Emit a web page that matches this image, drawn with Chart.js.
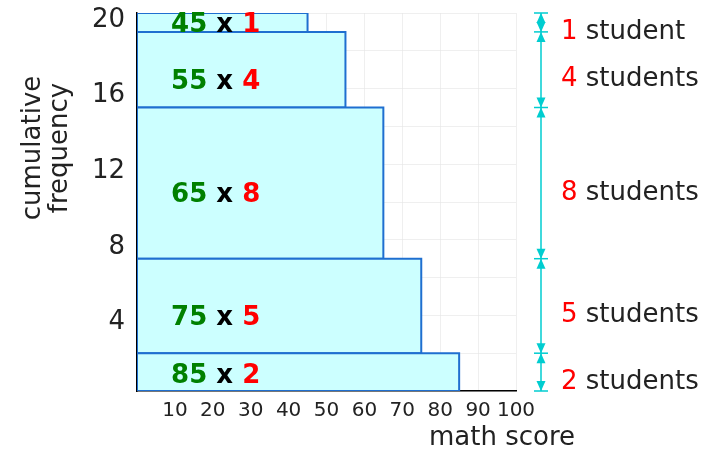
<!DOCTYPE html>
<html>
<head>
<meta charset="utf-8">
<script src="https://cdn.jsdelivr.net/npm/chart.js@4/dist/chart.umd.min.js"></script>
<style>
  html, body { margin: 0; padding: 0; background: #fff; }
  #wrap { width: 705px; height: 450px; }
</style>
</head>
<body>
<div id="wrap"><canvas id="chart-cumfreq" width="705" height="450"></canvas></div>
<script>
// math score of each group, bottom group first
const scores = [85, 75, 65, 55, 45];
// number of students in each group
const counts = [2, 5, 8, 4, 1];
const xTickLabels = ['10', '20', '30', '40', '50', '60', '70', '80', '90', '100'];
const yTickLabels = ['4', '8', '12', '16', '20'];
const yTitle = ['cumulative', 'frequency'];
const xTitle = 'math score';

const FONT = "'DejaVu Sans', 'Liberation Sans', sans-serif";
const TEXT = '#222';
const ARROW = '#00cdd0';

// cumulative bounds of each group
const bounds = [0];
counts.forEach((c) => bounds.push(bounds[bounds.length - 1] + c));

const datasets = scores.map((score, i) => {
  const y0 = bounds[i];
  const y1 = bounds[i + 1];
  return {
    label: `${score} x ${counts[i]}`,
    data: [
      { x: 0, y: y0 }, { x: score, y: y0 }, { x: score, y: y1 },
      { x: 0, y: y1 }, { x: 0, y: y0 },
    ],
    showLine: true,
    fill: 'shape',
    backgroundColor: '#ccffff',
    borderColor: '#1f6fd0',
    borderWidth: 2,
    pointRadius: 0,
    tension: 0,
  };
});

const annotations = {
  id: 'annotations',
  afterDraw(chart) {
    const { ctx, scales: { x, y }, chartArea } = chart;
    ctx.save();

    // group labels inside bars
    scores.forEach((score, i) => {
      const top = y.getPixelForValue(bounds[i + 1]);
      const bottom = y.getPixelForValue(bounds[i]);
      const mid = (top + bottom) / 2;
      const base = Math.max(Math.min(mid + 19, bottom - 8), top + 19);
      ctx.font = `bold 26px ${FONT}`;
      ctx.textBaseline = 'alphabetic';
      ctx.textAlign = 'left';
      let px = x.getPixelForValue(9);
      [[`${score}`, '#008000'], [' x ', '#000'], [`${counts[i]}`, '#ff0000']].forEach(([t, c]) => {
        ctx.fillStyle = c;
        ctx.fillText(t, px, base);
        px += ctx.measureText(t).width;
      });
    });

    // dimension arrows on the right
    const ax = chartArea.right + 25;
    ctx.lineWidth = 1.5;
    bounds.forEach((b) => {
      const py = y.getPixelForValue(b);
      ctx.strokeStyle = ARROW;
      ctx.beginPath();
      ctx.moveTo(ax - 7, py);
      ctx.lineTo(ax + 7, py);
      ctx.stroke();
    });
    const head = (tipY, dir) => {
      ctx.fillStyle = ARROW;
      ctx.beginPath();
      ctx.moveTo(ax, tipY);
      ctx.lineTo(ax - 4.5, tipY + dir * 10);
      ctx.lineTo(ax + 4.5, tipY + dir * 10);
      ctx.closePath();
      ctx.fill();
    };
    counts.forEach((c, i) => {
      const top = y.getPixelForValue(bounds[i + 1]);
      const bottom = y.getPixelForValue(bounds[i]);
      ctx.strokeStyle = ARROW;
      ctx.beginPath();
      ctx.moveTo(ax, top);
      ctx.lineTo(ax, bottom);
      ctx.stroke();
      head(top, 1);
      head(bottom, -1);

      const base = (top + bottom) / 2 + 16.5;
      ctx.font = `26px ${FONT}`;
      ctx.textAlign = 'left';
      ctx.textBaseline = 'alphabetic';
      let px = ax + 20;
      const num = `${c}`;
      ctx.fillStyle = '#ff0000';
      ctx.fillText(num, px, base);
      px += ctx.measureText(num + ' ').width;
      ctx.fillStyle = TEXT;
      ctx.fillText(c === 1 ? 'student' : 'students', px, base);
    });

    // axis titles
    ctx.fillStyle = TEXT;
    ctx.font = `26px ${FONT}`;
    ctx.textAlign = 'center';
    ctx.textBaseline = 'middle';
    yTitle.forEach((line, i) => {
      ctx.save();
      ctx.translate(33 + i * 27, 148);
      ctx.rotate(-Math.PI / 2);
      ctx.fillText(line, 0, 0);
      ctx.restore();
    });
    ctx.textBaseline = 'alphabetic';
    ctx.fillText(xTitle, 502, 445);

    ctx.restore();
  },
};

new Chart(document.getElementById('chart-cumfreq').getContext('2d'), {
  type: 'scatter',
  data: { datasets },
  options: {
    responsive: false,
    animation: false,
    layout: { padding: { top: 13, right: 189, left: 0, bottom: 0 } },
    plugins: { legend: { display: false }, tooltip: { enabled: false } },
    scales: {
      x: {
        type: 'linear',
        min: 0,
        max: 100,
        z: 1,
        afterFit: (scale) => { scale.height = 59; scale.paddingLeft = 0; scale.paddingRight = 0; },
        border: { color: '#000', width: 1.5 },
        grid: { color: 'rgba(228,228,228,0.6)', lineWidth: 1, drawTicks: false },
        ticks: {
          stepSize: 10,
          autoSkip: false,
          padding: 8,
          color: TEXT,
          font: { family: FONT, size: 20 },
          maxRotation: 0,
          callback: (v) => (xTickLabels.includes(String(v)) ? String(v) : ''),
        },
      },
      y: {
        type: 'linear',
        min: 0,
        max: 20,
        z: 1,
        afterFit: (scale) => { scale.width = 137; scale.paddingTop = 0; scale.paddingBottom = 0; },
        border: { color: '#000', width: 1.5 },
        grid: { color: 'rgba(228,228,228,0.6)', lineWidth: 1, drawTicks: false },
        ticks: {
          stepSize: 2,
          autoSkip: false,
          padding: 12,
          labelOffset: 7,
          color: TEXT,
          font: { family: FONT, size: 26 },
          callback: (v) => (yTickLabels.includes(String(v)) ? String(v) : ''),
        },
      },
    },
  },
  plugins: [annotations],
});
</script>
</body>
</html>
